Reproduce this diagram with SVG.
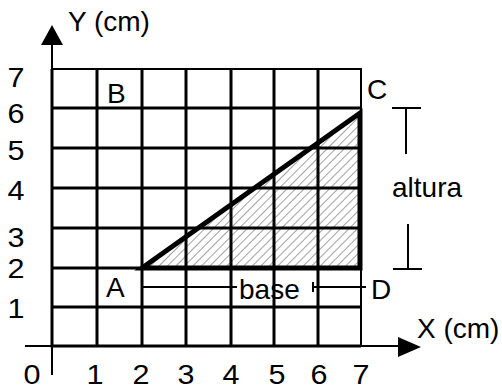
<svg xmlns="http://www.w3.org/2000/svg" width="502" height="390" viewBox="0 0 502 390">
<style>
text{font-family:"Liberation Sans",Arial,sans-serif;font-size:28px;fill:#000}
.g{stroke:#000;stroke-width:3;fill:none}
.t{stroke:#000;stroke-width:2;fill:none}
.k{stroke:#000;stroke-width:5;fill:none;stroke-linecap:square}
.m{text-anchor:middle}
</style>
<defs>
<pattern id="hatch" width="6" height="6" patternUnits="userSpaceOnUse" patternTransform="rotate(45)">
<line x1="0" y1="0" x2="0" y2="6" stroke="#444" stroke-width="1"/>
</pattern>
</defs>
<rect width="502" height="390" fill="#fff"/>
<g id="hatching">
<polygon points="142,268 360,268 360,113" fill="url(#hatch)"/>
</g>
<g id="grid">
<path class="g" d="M97 69V346M142 69V346M186 69V346M231 69V346M274 69V346M318 69V346"/>
<path class="g" d="M52 108H361M52 148H361M52 188H361M52 228H361M52 268H361M52 307H361"/>
<path class="t" d="M52 69H361V346"/>
</g>
<g id="axes">
<path class="g" d="M52 69V346H361"/>
<path class="t" d="M52 45V69M52 346V375M25 346H52M361 346H399"/>
<polygon points="52,25 41,45 63,45" fill="#000"/>
<polygon points="421,347 398,337 398,357" fill="#000"/>
<text x="68" y="31">Y (cm)</text>
<text x="417" y="338">X (cm)</text>
</g>
<g id="y-labels" class="m">
<text x="16" y="87" textLength="17" lengthAdjust="spacingAndGlyphs">7</text>
<text x="16" y="123" textLength="17" lengthAdjust="spacingAndGlyphs">6</text>
<text x="16" y="160" textLength="17" lengthAdjust="spacingAndGlyphs">5</text>
<text x="16" y="200" textLength="17" lengthAdjust="spacingAndGlyphs">4</text>
<text x="16" y="247" textLength="17" lengthAdjust="spacingAndGlyphs">3</text>
<text x="16" y="278" textLength="17" lengthAdjust="spacingAndGlyphs">2</text>
<text x="16" y="318" textLength="17" lengthAdjust="spacingAndGlyphs">1</text>
</g>
<g id="x-labels" class="m">
<text x="32" y="384" textLength="17" lengthAdjust="spacingAndGlyphs">0</text>
<text x="95" y="384" textLength="17" lengthAdjust="spacingAndGlyphs">1</text>
<text x="141" y="384" textLength="17" lengthAdjust="spacingAndGlyphs">2</text>
<text x="186" y="384" textLength="17" lengthAdjust="spacingAndGlyphs">3</text>
<text x="231" y="384" textLength="17" lengthAdjust="spacingAndGlyphs">4</text>
<text x="277" y="384" textLength="17" lengthAdjust="spacingAndGlyphs">5</text>
<text x="319" y="384" textLength="17" lengthAdjust="spacingAndGlyphs">6</text>
<text x="361" y="384" textLength="17" lengthAdjust="spacingAndGlyphs">7</text>
</g>
<g id="triangle">
<path class="k" d="M142 268L360 113V268Z" stroke-linejoin="miter"/>
</g>
<g id="base-dim">
<path class="t" d="M142 287H237M313 287H366M313 282V292"/>
<rect x="238" y="276" width="72" height="28" fill="#fff"/>
<path class="g" d="M274 276V304"/>
<text x="239" y="299">base</text>
</g>
<g id="altura-dim">
<path class="t" d="M392 108H421M406 108V154M408 224V269M393 269H422"/>
<text x="392" y="197">altura</text>
</g>
<g id="point-A"><text x="106" y="297">A</text></g>
<g id="point-B"><text x="107" y="103">B</text></g>
<g id="point-C"><text x="367" y="99">C</text></g>
<g id="point-D"><text x="371" y="299">D</text></g>
</svg>
